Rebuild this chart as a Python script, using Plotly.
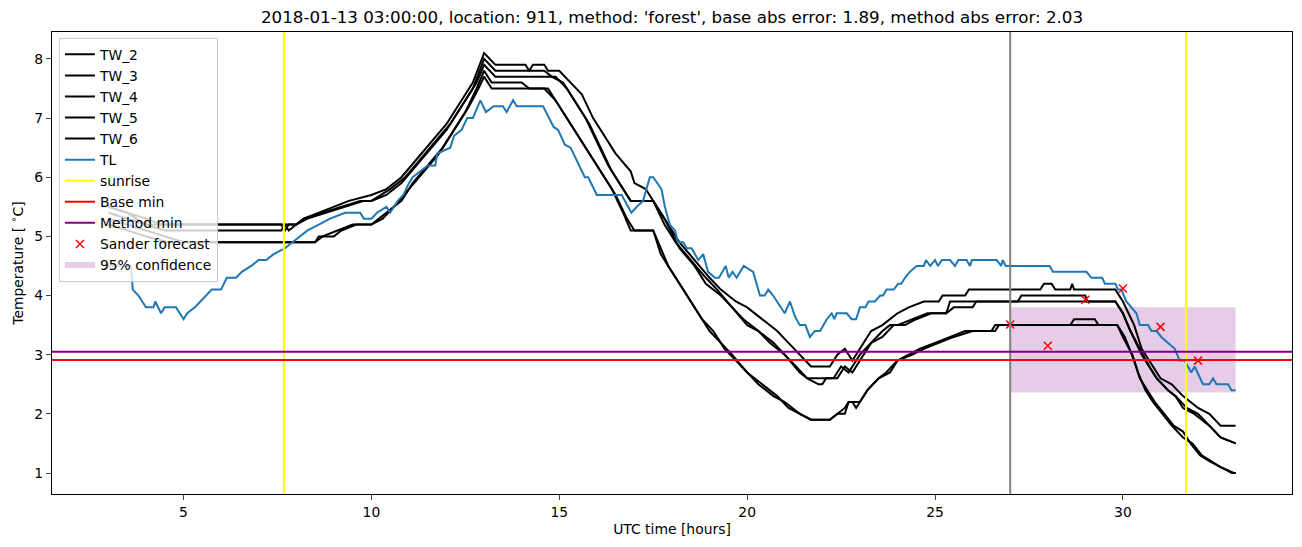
import plotly.graph_objects as go

TITLE = "2018-01-13 03:00:00, location: 911, method: 'forest', base abs error: 1.89, method abs error: 2.03"

TW2_t = [3.0, 3.5, 4.0, 4.4, 8.0, 8.2, 8.6, 9.0, 9.4, 10.0, 10.4, 10.8, 11.2, 11.6, 12.0, 12.4, 12.7, 13.0, 13.3, 14.1, 14.2, 14.3, 14.6, 14.7, 15.0, 15.3, 15.6, 15.9, 16.2, 16.5, 16.9, 17.0, 17.3, 17.6, 17.9, 18.2, 18.6, 19.0, 19.3, 19.7, 20.0, 20.4, 20.8, 21.1, 21.4, 21.7, 22.2, 22.4, 22.6, 22.8, 23.0, 23.3, 23.6, 23.8, 24.0, 24.3, 24.7, 25.1, 25.2, 25.8, 25.9, 27.8, 27.9, 28.1, 28.2, 28.6, 28.65, 28.7, 29.8, 30.0, 30.3, 30.5, 30.8, 31.0, 31.3, 31.6, 32.0, 32.3, 32.6, 33.0]
TW2_v = [5.5, 5.4, 5.3, 5.2, 5.2, 5.3, 5.4, 5.5, 5.6, 5.7, 5.8, 6.0, 6.3, 6.6, 6.9, 7.3, 7.6, 8.1, 7.9, 7.9, 7.8, 7.9, 7.9, 7.8, 7.8, 7.6, 7.4, 7.0, 6.7, 6.4, 6.1, 5.9, 5.8, 5.5, 5.2, 4.9, 4.6, 4.3, 4.1, 3.9, 3.8, 3.6, 3.4, 3.2, 3.0, 2.8, 2.8, 3.0, 3.1, 2.9, 3.1, 3.4, 3.5, 3.6, 3.7, 3.8, 3.9, 3.9, 4.0, 4.0, 4.1, 4.1, 4.2, 4.2, 4.1, 4.1, 4.2, 4.1, 4.1, 3.9, 3.5, 3.1, 2.8, 2.6, 2.5, 2.3, 2.1, 2.0, 1.8, 1.8]

TW3_t = [3.0, 3.5, 4.0, 4.5, 7.6, 7.7, 7.8, 8.0, 8.3, 8.8, 9.3, 9.8, 10.0, 10.4, 10.8, 11.2, 11.6, 12.0, 12.4, 12.7, 13.0, 13.3, 14.6, 14.8, 15.1, 15.4, 15.7, 16.0, 16.3, 16.6, 16.9, 17.5, 17.8, 18.2, 18.6, 18.9, 19.3, 19.6, 20.0, 20.3, 20.7, 21.0, 21.4, 21.6, 22.3, 22.5, 22.7, 23.0, 23.3, 23.6, 23.8, 24.0, 24.4, 24.8, 25.3, 25.4, 27.2, 27.3, 29.0, 29.05, 29.8, 30.0, 30.2, 30.45, 30.7, 30.9, 31.2, 31.4, 31.6, 31.9, 32.3, 32.6, 33.0]
TW3_v = [5.5, 5.4, 5.2, 5.1, 5.1, 5.2, 5.1, 5.2, 5.3, 5.4, 5.5, 5.6, 5.6, 5.7, 5.9, 6.2, 6.5, 6.8, 7.2, 7.5, 8.0, 7.8, 7.8, 7.7, 7.6, 7.3, 7.0, 6.6, 6.2, 5.9, 5.6, 5.6, 5.3, 4.8, 4.5, 4.2, 4.0, 3.8, 3.5, 3.4, 3.2, 3.0, 2.7, 2.6, 2.6, 2.8, 2.7, 3.0, 3.2, 3.4, 3.5, 3.5, 3.6, 3.7, 3.7, 3.9, 3.9, 4.0, 4.0, 3.9, 3.9, 3.7, 3.4, 3.1, 2.8, 2.6, 2.4, 2.3, 2.1, 2.0, 1.8, 1.6, 1.5]

TW4_t = [3.0, 3.5, 4.0, 4.5, 7.6, 7.7, 7.8, 8.0, 8.2, 8.7, 9.2, 9.7, 10.0, 10.5, 10.9, 11.3, 11.7, 12.1, 12.5, 12.8, 13.0, 13.3, 14.9, 15.2, 15.5, 15.8, 16.1, 16.4, 16.7, 16.9, 17.5, 17.8, 18.1, 18.5, 18.9, 19.2, 19.6, 19.9, 20.3, 20.6, 21.0, 21.3, 21.6, 21.9, 22.0, 22.1, 22.4, 22.6, 22.8, 23.0, 23.3, 23.6, 23.9, 24.2, 24.5, 24.9, 25.3, 25.5, 26.0, 26.1, 29.8, 30.0, 30.2, 30.5, 30.7, 30.9, 31.2, 31.4, 31.7, 32.0, 32.3, 32.6, 33.0]
TW4_v = [5.4, 5.3, 5.2, 5.2, 5.2, 5.1, 5.2, 5.2, 5.3, 5.4, 5.5, 5.6, 5.6, 5.8, 6.0, 6.3, 6.6, 6.9, 7.3, 7.6, 7.9, 7.7, 7.7, 7.5, 7.2, 6.9, 6.5, 6.1, 5.8, 5.6, 5.6, 5.2, 4.9, 4.6, 4.3, 4.1, 3.8, 3.6, 3.4, 3.2, 3.0, 2.8, 2.6, 2.5, 2.5, 2.6, 2.6, 2.8, 2.7, 2.9, 3.2, 3.3, 3.5, 3.5, 3.6, 3.7, 3.7, 3.8, 3.8, 3.9, 3.9, 3.7, 3.4, 3.0, 2.8, 2.6, 2.4, 2.3, 2.1, 2.0, 1.8, 1.6, 1.5]

TW5_t = [3.0, 3.5, 4.0, 4.5, 5.0, 8.5, 8.6, 9.0, 9.2, 9.6, 10.0, 10.3, 10.6, 11.0, 11.4, 11.8, 12.2, 12.5, 12.8, 13.0, 13.2, 14.0, 14.2, 14.7, 15.0, 15.3, 15.6, 15.9, 16.2, 16.5, 16.8, 17.0, 17.5, 17.7, 17.9, 18.1, 18.4, 18.7, 19.0, 19.3, 19.6, 20.0, 20.3, 20.7, 21.0, 21.4, 21.7, 22.2, 22.4, 22.6, 22.7, 22.8, 22.9, 23.2, 23.5, 23.7, 24.0, 24.3, 24.6, 25.0, 25.4, 25.8, 26.5, 26.6, 28.6, 28.7, 29.25, 29.35, 29.85, 30.05, 30.3, 30.45, 30.65, 30.85, 31.1, 31.35, 31.6, 31.8, 32.05, 32.3, 32.6, 32.9, 33.0]
TW5_v = [5.3, 5.2, 5.1, 5.0, 4.9, 4.9, 5.0, 5.0, 5.1, 5.2, 5.2, 5.3, 5.5, 5.8, 6.1, 6.4, 6.8, 7.1, 7.5, 7.8, 7.6, 7.6, 7.5, 7.5, 7.2, 6.9, 6.6, 6.3, 6.0, 5.7, 5.3, 5.1, 5.1, 4.8, 4.5, 4.3, 4.0, 3.7, 3.4, 3.2, 3.0, 2.7, 2.5, 2.3, 2.2, 2.0, 1.9, 1.9, 2.0, 2.0, 2.2, 2.2, 2.1, 2.4, 2.6, 2.7, 2.9, 3.0, 3.1, 3.2, 3.3, 3.4, 3.4, 3.5, 3.5, 3.6, 3.6, 3.5, 3.5, 3.3, 2.9, 2.6, 2.4, 2.2, 2.0, 1.8, 1.7, 1.5, 1.3, 1.2, 1.1, 1.0, 1.0]

TW6_t = [3.0, 3.5, 4.0, 4.6, 8.5, 8.7, 9.1, 9.5, 10.0, 10.4, 10.8, 11.1, 11.5, 11.9, 12.3, 12.6, 12.85, 13.0, 13.2, 14.6, 14.9, 15.2, 15.5, 15.8, 16.1, 16.4, 16.7, 16.9, 17.5, 17.7, 17.9, 18.2, 18.5, 18.8, 19.1, 19.4, 19.7, 20.0, 20.4, 20.8, 21.1, 21.4, 21.7, 22.2, 22.4, 22.6, 22.7, 22.85, 23.0, 23.2, 23.5, 23.8, 24.0, 24.4, 24.7, 25.1, 25.5, 26.0, 26.6, 26.7, 29.85, 30.0, 30.25, 30.4, 30.6, 30.8, 31.05, 31.3, 31.6, 31.85, 32.1, 32.35, 32.6, 32.95, 33.0]
TW6_v = [5.2, 5.1, 5.0, 4.9, 4.9, 5.0, 5.1, 5.2, 5.2, 5.4, 5.6, 5.9, 6.2, 6.5, 6.9, 7.2, 7.5, 7.7, 7.5, 7.5, 7.3, 7.0, 6.7, 6.4, 6.1, 5.8, 5.4, 5.1, 5.1, 4.7, 4.5, 4.2, 3.9, 3.6, 3.4, 3.1, 2.9, 2.7, 2.5, 2.3, 2.1, 2.0, 1.9, 1.9, 2.0, 2.1, 2.2, 2.2, 2.2, 2.4, 2.6, 2.7, 2.9, 3.0, 3.1, 3.2, 3.3, 3.4, 3.4, 3.5, 3.5, 3.3, 3.0, 2.7, 2.4, 2.2, 2.0, 1.8, 1.6, 1.5, 1.3, 1.2, 1.1, 1.0, 1.0]

TL_t = [3.0, 3.6, 3.65, 3.8, 4.0, 4.2, 4.25, 4.4, 4.5, 4.8, 4.9, 5.0, 5.1, 5.3, 5.45, 5.6, 5.75, 6.0, 6.15, 6.4, 6.55, 6.8, 7.0, 7.2, 7.4, 7.7, 7.9, 8.1, 8.3, 8.6, 8.9, 9.3, 9.7, 9.8, 10.0, 10.15, 10.4, 10.5, 10.7, 10.85, 11.0, 11.1, 11.3, 11.5, 11.7, 11.75, 12.1, 12.2, 12.4, 12.55, 12.7, 12.9, 13.05, 13.25, 13.5, 13.6, 13.77, 13.87, 14.57, 14.85, 14.97, 15.15, 15.3, 15.68, 15.77, 16.0, 16.66, 16.92, 17.06, 17.23, 17.41, 17.5, 17.72, 17.81, 17.94, 18.08, 18.16, 18.3, 18.39, 18.52, 18.7, 18.83, 18.96, 19.14, 19.25, 19.43, 19.51, 19.61, 19.72, 19.91, 20.16, 20.34, 20.47, 20.56, 20.69, 21.0, 21.14, 21.27, 21.4, 21.55, 21.67, 21.8, 21.94, 22.12, 22.25, 22.32, 22.38, 22.65, 22.78, 22.9, 23.0, 23.15, 23.23, 23.4, 23.54, 23.62, 23.71, 23.9, 24.02, 24.1, 24.2, 24.33, 24.51, 24.7, 24.76, 24.87, 25.0, 25.08, 25.18, 25.4, 25.53, 25.62, 25.84, 25.93, 25.98, 26.64, 26.76, 26.8, 26.88, 28.05, 28.14, 29.03, 29.16, 29.45, 29.52, 29.8, 29.87, 29.96, 30.09, 30.23, 30.36, 30.45, 30.67, 30.76, 30.9, 31.02, 31.2, 31.38, 31.51, 31.64, 31.82, 31.91, 32.13, 32.3, 32.4, 32.49, 32.8, 32.89, 33.0]
TL_v = [4.5, 4.5, 4.1, 4.0, 3.8, 3.8, 3.9, 3.7, 3.8, 3.8, 3.7, 3.6, 3.7, 3.8, 3.9, 4.0, 4.1, 4.1, 4.3, 4.3, 4.4, 4.5, 4.6, 4.6, 4.7, 4.8, 4.9, 5.0, 5.1, 5.2, 5.3, 5.4, 5.4, 5.3, 5.3, 5.4, 5.5, 5.4, 5.6, 5.7, 5.9, 6.0, 6.1, 6.2, 6.2, 6.4, 6.5, 6.7, 6.8, 7.0, 7.0, 7.3, 7.1, 7.2, 7.2, 7.1, 7.3, 7.2, 7.2, 6.85, 6.8, 6.55, 6.5, 6.0, 6.0, 5.7, 5.7, 5.4, 5.5, 5.6, 6.0, 6.0, 5.8, 5.5, 5.2, 5.1, 4.9, 4.9, 4.8, 4.8, 4.6, 4.7, 4.4, 4.3, 4.3, 4.5, 4.3, 4.4, 4.3, 4.5, 4.4, 4.0, 4.0, 4.1, 4.0, 3.7, 3.9, 3.65, 3.5, 3.5, 3.3, 3.4, 3.4, 3.6, 3.7, 3.6, 3.7, 3.7, 3.6, 3.6, 3.8, 3.8, 3.9, 3.9, 4.0, 4.0, 4.1, 4.1, 4.2, 4.2, 4.3, 4.4, 4.5, 4.5, 4.6, 4.5, 4.6, 4.5, 4.6, 4.6, 4.5, 4.6, 4.6, 4.5, 4.6, 4.6, 4.5, 4.6, 4.5, 4.5, 4.4, 4.4, 4.3, 4.3, 4.2, 4.2, 4.1, 4.1, 3.9, 3.8, 3.7, 3.5, 3.5, 3.4, 3.4, 3.3, 3.2, 3.1, 2.9, 2.9, 2.7, 2.8, 2.5, 2.5, 2.6, 2.5, 2.5, 2.4, 2.4]

SUNRISE = [7.67, 31.68]
NOW_T = 27.0
BASE_MIN = 2.91
METHOD_MIN = 3.05
SANDER_T = [27, 28, 29, 30, 31, 32]
SANDER_V = [3.51, 3.15, 3.93, 4.12, 3.47, 2.90]
CONF_T = [27.0, 33.0]
CONF_LO = 2.36
CONF_HI = 3.80

X_TICKS = [5, 10, 15, 20, 25, 30]
Y_TICKS = [1, 2, 3, 4, 5, 6, 7, 8]
X_RANGE = [1.5, 34.5]
Y_RANGE = [0.645, 8.455]

FONT = "DejaVu Sans"
FS = 13.9
# the page body has an 8px default margin: the figure is sized/margined to compensate
W, H = 1294, 539
fig = go.Figure()

fig.add_trace(go.Scatter(
    x=[CONF_T[0], CONF_T[1], CONF_T[1], CONF_T[0], CONF_T[0]],
    y=[CONF_LO, CONF_LO, CONF_HI, CONF_HI, CONF_LO],
    fill="toself", fillcolor="rgba(128,0,128,0.2)", mode="none",
    name="95% confidence", legendrank=1011, hoverinfo="skip"))

for name, t, v in [("TW_2", TW2_t, TW2_v), ("TW_3", TW3_t, TW3_v), ("TW_4", TW4_t, TW4_v),
                   ("TW_5", TW5_t, TW5_v), ("TW_6", TW6_t, TW6_v)]:
    fig.add_trace(go.Scatter(x=t, y=v, mode="lines", name=name,
                             line=dict(color="black", width=2), legendrank=1000 + int(name[-1])))

fig.add_trace(go.Scatter(x=TL_t, y=TL_v, mode="lines", name="TL",
                         line=dict(color="#1f77b4", width=2), legendrank=1007))

fig.add_trace(go.Scatter(x=[None], y=[None], mode="lines", name="sunrise",
                         line=dict(color="yellow", width=2), legendrank=1008))
fig.add_trace(go.Scatter(x=[None], y=[None], mode="lines", name="Base min",
                         line=dict(color="red", width=2), legendrank=1009))
fig.add_trace(go.Scatter(x=[None], y=[None], mode="lines", name="Method min",
                         line=dict(color="purple", width=2), legendrank=1010))

shapes = []
for s in SUNRISE:
    shapes.append(dict(type="line", xref="x", yref="y domain", x0=s, x1=s, y0=0, y1=1,
                       line=dict(color="yellow", width=2)))
shapes.append(dict(type="line", xref="x", yref="y domain", x0=NOW_T, x1=NOW_T, y0=0, y1=1,
                   line=dict(color="grey", width=2)))
shapes.append(dict(type="line", xref="x domain", yref="y", x0=0, x1=1, y0=BASE_MIN, y1=BASE_MIN,
                   line=dict(color="red", width=2)))
shapes.append(dict(type="line", xref="x domain", yref="y", x0=0, x1=1, y0=METHOD_MIN, y1=METHOD_MIN,
                   line=dict(color="purple", width=2)))
for sh in shapes:
    sh["layer"] = "above"

fig.add_trace(go.Scatter(x=SANDER_T, y=SANDER_V, mode="markers", name="Sander forecast",
                         marker=dict(symbol="x-thin", size=8, line=dict(color="red", width=1.5), color="red"),
                         legendrank=1010.5))

fig.update_layout(
    width=W, height=H,
    margin=dict(l=44, r=10, t=24, b=53),
    paper_bgcolor="white", plot_bgcolor="white",
    font=dict(family=FONT, size=FS, color="black"),
    title=dict(text=TITLE, x=664 / W, xanchor="center", xref="container",
               y=1 - 9 / H, yanchor="middle", yref="container",
               font=dict(family=FONT, size=16.7, color="black")),
    shapes=shapes,
    showlegend=True,
    legend=dict(x=0.0056, y=0.9875, xanchor="left", yanchor="top",
                bgcolor="rgba(255,255,255,0.8)", bordercolor="#cccccc", borderwidth=1,
                font=dict(family=FONT, size=FS, color="black"), itemwidth=30,
                traceorder="normal"),
    xaxis=dict(range=X_RANGE, tickvals=X_TICKS, ticks="outside", ticklen=5, tickwidth=1.1,
               showline=True, linecolor="black", linewidth=1.1, mirror=True, showgrid=False,
               zeroline=False, automargin=False,
               title=dict(text="UTC time [hours]", standoff=5, font=dict(family=FONT, size=FS)),
               tickfont=dict(family=FONT, size=FS)),
    yaxis=dict(range=Y_RANGE, tickvals=Y_TICKS, ticks="outside", ticklen=5, tickwidth=1.1,
               showline=True, linecolor="black", linewidth=1.1, mirror=True, showgrid=False,
               zeroline=False, automargin=False,
               title=dict(text="Temperature [ <sup>∘</sup>C]", standoff=9, font=dict(family=FONT, size=FS)),
               tickfont=dict(family=FONT, size=FS)),
)

fig.write_html("out.html")
